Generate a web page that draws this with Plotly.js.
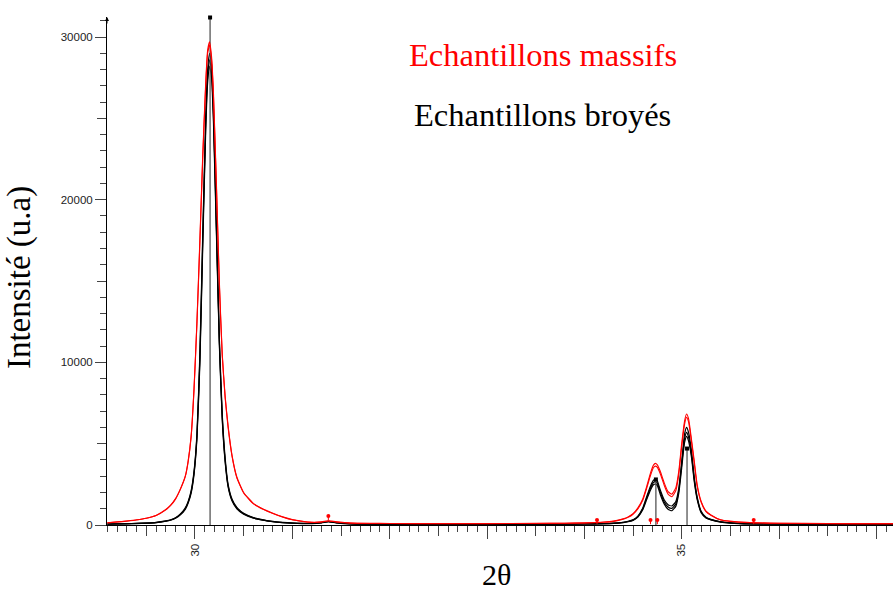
<!DOCTYPE html>
<html>
<head>
<meta charset="utf-8">
<script src="https://cdn.plot.ly/plotly-3.0.1.min.js"></script>
<style>html,body{margin:0;padding:0;background:#fff;}#chart{width:893px;height:590px;}</style>
</head>
<body>
<div id="chart"></div>
<script>
// 2θ grid (degrees)
const twoTheta = [29.1,29.2,29.3,29.4,29.5,29.6,29.7,29.75,29.8,29.85,
  29.9,29.93,29.96,29.99,30.02,30.05,30.08,30.11,30.13,30.15,
  30.17,30.19,30.22,30.25,30.28,30.31,30.34,30.38,30.43,30.5,
  30.6,30.7,30.8,30.9,31.0,31.1,31.2,31.3,31.37,31.45,
  31.6,31.8,32.0,32.5,33.0,33.5,33.8,34.0,34.2,34.3,
  34.4,34.45,34.5,34.55,34.6,34.64,34.68,34.71,34.73,34.75,
  34.78,34.82,34.86,34.9,34.94,34.97,35.0,35.03,35.05,35.07,
  35.1,35.13,35.16,35.2,35.25,35.3,35.4,35.5,35.7,36.0,
  36.5,37.0,37.2];

// Echantillons massifs (red)
const massif1 = [140,190,250,320,420,590,950,1220,1620,2220,
  3000,3950,5450,8400,12500,17500,22800,27200,29200,29700,
  28800,26500,21000,15000,10500,7900,6100,4300,2950,2000,
  1330,980,720,500,330,230,170,190,260,200,
  120,100,95,90,90,100,110,130,180,240,
  380,500,700,1050,1600,2350,3200,3680,3790,3700,
  3300,2600,2050,1900,2300,3300,5000,6400,6820,6550,
  5300,3900,2450,1450,850,620,320,230,150,110,
  90,85,85];
const massif2 = [130,180,240,310,410,580,930,1200,1590,2190,
  2970,3900,5400,8300,12400,17300,22600,27000,29000,29500,
  28600,26300,20800,14800,10400,7800,6000,4250,2900,1970,
  1300,960,700,490,320,220,160,180,250,190,
  115,95,90,85,85,95,105,125,170,225,
  360,470,660,990,1520,2250,3060,3520,3620,3540,
  3150,2450,1900,1740,2120,3100,4800,6200,6620,6350,
  5150,3750,2350,1400,820,600,310,220,145,105,
  85,80,80];

// Echantillons broyés (black)
const broye1 = [60,70,85,100,120,160,250,320,450,680,
  1050,1450,2100,3300,5600,10500,18000,25000,28000,29000,
  28300,25500,18500,11500,6800,4100,2500,1600,1080,720,
  460,320,220,160,120,100,100,150,220,150,
  80,60,50,50,50,55,60,65,85,110,
  170,230,320,550,1050,1740,2400,2750,2810,2700,
  2150,1550,1250,1170,1450,2250,3900,5600,6000,5700,
  4600,2900,1700,850,480,350,200,130,80,60,
  50,50,50];
const broye2 = [55,65,80,95,115,150,240,305,430,650,
  1000,1400,2020,3200,5450,10200,17600,24600,27600,28600,
  27900,25100,18200,11300,6600,3950,2420,1540,1040,690,
  440,305,210,150,115,95,95,140,210,140,
  75,55,48,48,48,52,56,62,80,105,
  160,215,300,520,990,1650,2280,2610,2670,2560,
  2010,1420,1110,1020,1300,2100,3700,5320,5700,5420,
  4380,2760,1620,800,450,330,190,125,75,55,
  48,48,48];
const broye3 = [50,60,75,90,110,145,230,295,410,620,
  960,1350,1950,3100,5300,9900,17200,24200,27200,28200,
  27500,24700,17900,11100,6450,3850,2350,1490,1000,665,
  425,295,200,145,110,90,90,135,200,135,
  70,52,45,45,45,50,54,60,76,100,
  150,200,285,490,940,1560,2150,2470,2520,2420,
  1880,1300,970,880,1160,1950,3500,5080,5450,5180,
  4180,2640,1550,760,430,315,180,120,70,52,
  45,45,45];

// reference sticks (peak positions / heights)
const stickPos = [30.155, 34.735, 35.055];
const stickInt = [31200, 2800, 4700];

// red peak markers
const markPos = [31.37, 34.13, 34.68, 34.75, 35.74];
const markInt = [550, 300, 300, 300, 300];

// ticks
const xMajorVals = [29,30,31,32,33,34,35,36,37];
const xMajorText = ['','30','','','','','35','',''];
const xHalfVals = [29.5,30.5,31.5,32.5,33.5,34.5,35.5,36.5];
const yMajorVals = [0,10000,20000,30000];
const yMajorText = ['0','10000','20000','30000'];
const yHalfVals = [5000,15000,25000];

const xRange = [29.096, 37.171];
const yRange = [0, 31230];

const sx = [], sy = [];
stickPos.forEach((p, i) => { sx.push(p, p, null); sy.push(0, stickInt[i], null); });

const traces = [];
[broye1, broye2, broye3].forEach(s => traces.push({
  x: twoTheta, y: s, mode: 'lines', type: 'scatter',
  line: {color: '#000000', width: 1.2, shape: 'spline', smoothing: 0.5}, hoverinfo: 'skip'
}));
traces.push({x: sx, y: sy, mode: 'lines', line: {color: '#555555', width: 1.3}, hoverinfo: 'skip', cliponaxis: false});
[massif1, massif2].forEach(s => traces.push({
  x: twoTheta, y: s, mode: 'lines', type: 'scatter',
  line: {color: '#ff0000', width: 1.1, shape: 'spline', smoothing: 0.5}, hoverinfo: 'skip'
}));
traces.push({x: stickPos, y: stickInt, mode: 'markers', marker: {symbol: 'square', size: 4, color: '#000'}, cliponaxis: false, hoverinfo: 'skip'});
traces.push({x: markPos, y: markInt, mode: 'markers', marker: {symbol: 'circle', size: 4, color: '#ff0000'},
  error_y: {type: 'constant', symmetric: false, value: 0, valueminus: 250, thickness: 1, width: 0, color: '#ff0000'},
  hoverinfo: 'skip'});
traces.push({x: [], y: [], xaxis: 'x2', yaxis: 'y2', mode: 'lines', hoverinfo: 'skip'});

const tickFont = {family: 'Liberation Sans, Arial, sans-serif', size: 11.5, color: '#222'};
const layout = {
  width: 893, height: 590,
  margin: {l: 107, r: 0, t: 17, b: 65, pad: 0},
  paper_bgcolor: '#fff', plot_bgcolor: '#fff',
  showlegend: false,
  xaxis: {
    range: xRange, showgrid: false, zeroline: false, showline: true, linecolor: '#000', linewidth: 1.2,
    ticks: 'outside', tickvals: xMajorVals, ticktext: xMajorText, ticklen: 13, tickwidth: 1, tickcolor: '#444',
    tickangle: -90, tickfont: tickFont,
    minor: {ticks: 'outside', dtick: 0.1, tick0: 29, ticklen: 6, tickwidth: 1, tickcolor: '#444', showgrid: false}
  },
  yaxis: {
    range: yRange, showgrid: false, zeroline: false, showline: true, linecolor: '#000', linewidth: 1,
    ticks: 'outside', tickvals: yMajorVals, ticktext: yMajorText, ticklen: 11, tickwidth: 1, tickcolor: '#444',
    tickfont: tickFont,
    minor: {ticks: 'outside', dtick: 1000, tick0: 0, ticklen: 6, tickwidth: 1, tickcolor: '#444', showgrid: false}
  },
  xaxis2: {
    overlaying: 'x', anchor: 'y', side: 'bottom', range: xRange, showgrid: false, zeroline: false, showline: false,
    ticks: 'outside', tickvals: xHalfVals, ticklen: 10, tickwidth: 1, tickcolor: '#444', showticklabels: false
  },
  yaxis2: {
    overlaying: 'y', anchor: 'x', side: 'left', range: yRange, showgrid: false, zeroline: false, showline: false,
    ticks: 'outside', tickvals: yHalfVals, ticklen: 9, tickwidth: 1, tickcolor: '#444', showticklabels: false
  },
  annotations: [
    {text: 'Echantillons massifs', xref: 'paper', yref: 'paper', x: 0.5547, y: 0.925, xanchor: 'center', yanchor: 'middle',
      showarrow: false, font: {family: 'Liberation Serif, serif', size: 32.5, color: '#ff0000'}},
    {text: 'Echantillons broyés', xref: 'paper', yref: 'paper', x: 0.5547, y: 0.807, xanchor: 'center', yanchor: 'middle',
      showarrow: false, font: {family: 'Liberation Serif, serif', size: 32.5, color: '#000000'}},
    {text: 'Intensité (u.a)', xref: 'paper', yref: 'paper', x: -0.112, y: 0.488, xanchor: 'center', yanchor: 'middle',
      textangle: -90, showarrow: false, font: {family: 'Liberation Serif, serif', size: 33, color: '#000'}},
    {text: '2θ', xref: 'paper', yref: 'paper', x: 0.496, y: -0.098, xanchor: 'center', yanchor: 'middle',
      showarrow: false, font: {family: 'Liberation Serif, serif', size: 30, color: '#000'}},
    {text: '', xref: 'paper', yref: 'paper', x: 0, y: 1, ax: 0, ay: 8, showarrow: true,
      arrowhead: 2, arrowsize: 0.8, arrowwidth: 1, arrowcolor: '#000'}
  ]
};

Plotly.newPlot('chart', traces, layout, {displayModeBar: false, staticPlot: true});
</script>
</body>
</html>
